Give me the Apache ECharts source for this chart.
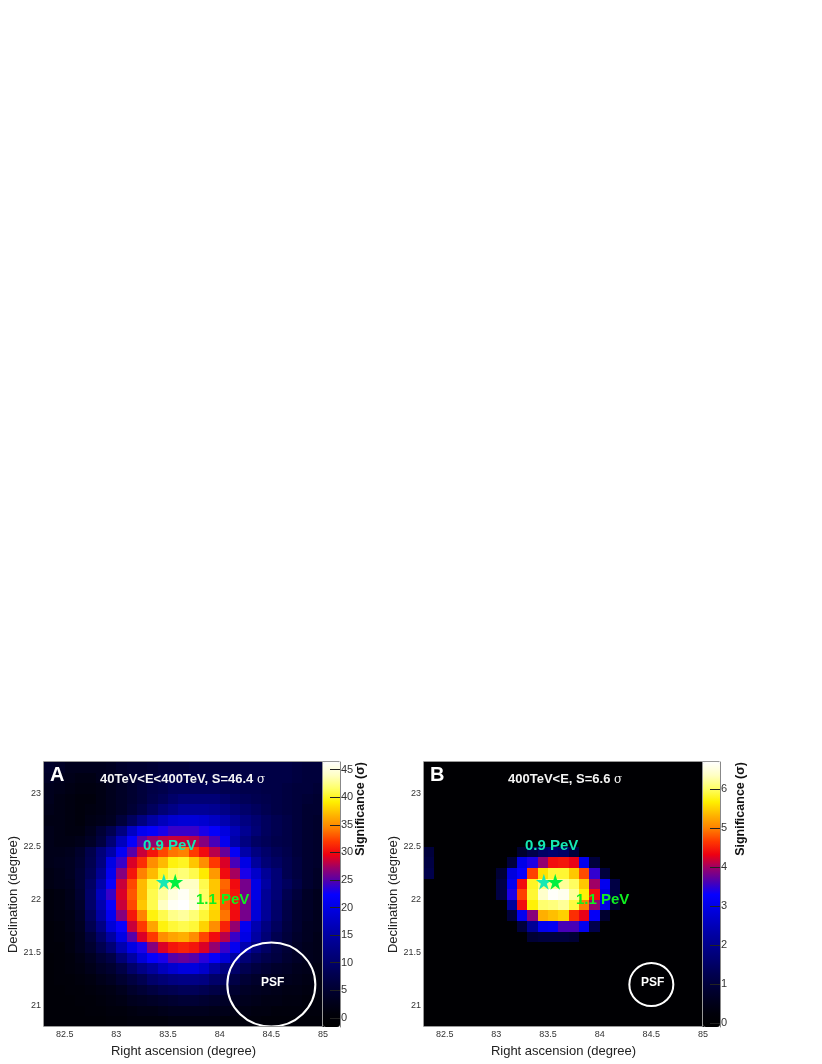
<!DOCTYPE html>
<html>
<head>
<meta charset="utf-8">
<title>Significance maps</title>
<script src="https://cdn.jsdelivr.net/npm/echarts@6/dist/echarts.min.js"></script>
<style>
html, body { margin: 0; padding: 0; background: #fff; }
#main { width: 822px; height: 1064px; }
</style>
</head>
<body>
<div id="main"></div>
<script>
// tick labels
var raTicks = [82.5, 83, 83.5, 84, 84.5, 85]
var decTicks = [21, 21.5, 22, 22.5, 23]
var barTicksA = [0, 5, 10, 15, 20, 25, 30, 35, 40, 45]
var barTicksB = [0, 1, 2, 3, 4, 5, 6]

// significance, top row first, 0.1 degree cells from RA 82.3
var sigA = [
  [4.5,4,3,3,3,3,3.5,4.5,5,5,5.5,6,6,6,6.5,6.5,6.5,6.5,6.5,7,7,7,7,7,6.5,6,6],
  [4,3,2.5,2,2,3,3.5,4,5,5.5,6,6.5,7,7,7,7,7,7,7,7,7,7,7,7,6.5,6,6],
  [3,2.5,2,1.5,1.5,2,3,4,5,6,7,7.5,8.5,8.5,8.5,8.5,8.5,8,8,7.5,7.5,7,7,6.5,6,6,5.5],
  [3,2,1.5,1,1,2,3,4,5,6,7.5,8.5,10,11,11,11,11,10,9,8.5,8,7.5,7,6.5,6,5.5,5],
  [2.5,2,1.5,1,1.5,2,3,4,5.5,7,9,11,12.5,14,14,14,13.5,12.5,11,10,9,8,7,6.5,6,5,5],
  [2,2,1.5,1,2,2.5,3.5,6,9,12,15,17,18.5,19,19,18.5,17.5,16,14,12,10.5,9,8,7,6,5,4.5],
  [2.5,2,1.5,1.5,3,5.5,8,12,17.5,21,22,23,24,24,24,23,22,19.5,16.5,13.5,11,9,8,7,6,5,4.5],
  [2.5,2,2,2.5,4,6.5,11,17,22,25,27,28,28.5,28.5,28,26.5,24.5,21,15.5,12,9.5,8.5,7.5,7,6,5,4.5],
  [2.5,2.5,3,4.5,7.5,11.5,15.5,21.5,25,28.5,30.5,32.5,34,34.5,32,30,28,25.5,21.5,15.5,12,10,8.5,7.5,6,5,4.5],
  [2.5,3,3.5,5,8,12,20,24,29,31.5,35,37,39.5,40,37.5,35,32,29,24.5,20,14.5,11,9.5,8,6.5,5,4.5],
  [2,2.5,3.5,5.5,8.5,13.5,21,26.5,30.5,34.5,37,40,41.5,42,41,39,35.5,30,27.5,23,18,14,11,8,6.5,5,4],
  [2,2.5,3,5.5,9.5,15.5,22.5,28.5,32.5,37,40.5,42,43,44,44,41,37.5,33.5,30,26,20,15,11,9,7,5,4],
  [1,1.5,2.5,5,10,17,24,29,33,37,41,43,45,46,44.5,41.5,37.5,33,30.5,26,20,14,11,8,6,4,3],
  [1,1.5,2.5,4.5,10,16,22.5,28.5,32.5,37.5,41,44,46,46.4,45,42,38.5,33,30,26,19,14,10,7,5,4,3],
  [1,1.5,2,4,9,15,21,26.5,30.5,34.5,39.5,41,42.5,43,42,40.5,38,34,30,26,19,14,10,7,5,4,3],
  [0.5,1,2,3.5,8,12.5,19,22.5,28.5,32,36,39.5,40.5,41,40.5,38,35,31,27,21,16,12,9,6.5,5,3.5,3],
  [0.5,1,1.5,3,6,10,15,20,25,29,32,35,36,36.5,35,32.5,30,28,24,20,15,11,8,6,4.5,3.5,2.5],
  [0.5,0.5,1.5,3,5,8,11,16,20,23,26.5,29,30.5,31,30.5,29,27,24,21,16,12,9.5,7,5.5,4,3,2.5],
  [0,0.5,1,2,3.5,5.5,7,11,15,19,22,23,25,25.5,25,23.5,22,19,15,11,9,7.5,6.5,5,4,3,2.5],
  [0,0.5,1,1.5,2.5,4,5,7,10,12.5,14.5,17,18.5,19.5,19.5,18,15,12,10,8,6.5,5.5,4.5,4,3,2.5,2],
  [0,0.5,0.5,1,1.5,2.5,3.5,5,6.5,8,10,11,12,12.5,12.5,12,10,9,7,5.5,4.5,4,3.5,3,2.5,2,1.5],
  [0,0,0.5,0.5,1,1.5,2,3,4.5,5.5,6.5,7.5,8,8.5,8.5,8,7,6,5,4,3.5,3,2.5,2,2,1.5,1.5],
  [0,0,0,0.5,0.5,1,1.5,2,3,3.5,4,4.5,5,5.5,5.5,5,4.5,4,3.5,3,2.5,2,2,1.5,1.5,1,1],
  [0,0,0,0,0.5,0.5,1,1,1.5,2,2,2.5,3,3,3,3,2.5,2.5,2,2,1.5,1.5,1,1,1,1,1],
  [0,0,0,0,0,0,0.5,0.5,1,1,1,1,1.5,1.5,1.5,1.5,1.5,1,1,1,1,0.5,0.5,0.5,0.5,0.5,0.5]
]

var sigB = [
  [0,0,0,0,0,0,0,0,0,0,0,0,0,0,0,0,0,0,0,0,0,0,0,0,0,0,0],
  [0,0,0,0,0,0,0,0,0,0,0,0,0,0,0,0,0,0,0,0,0,0,0,0,0,0,0],
  [0,0,0,0,0,0,0,0,0,0,0,0,0,0,0,0,0,0,0,0,0,0,0,0,0,0,0],
  [0,0,0,0,0,0,0,0,0,0,0,0,0,0,0,0,0,0,0,0,0,0,0,0,0,0,0],
  [0,0,0,0,0,0,0,0,0,0,0,0,0,0,0,0,0,0,0,0,0,0,0,0,0,0,0],
  [0,0,0,0,0,0,0,0,0,0,0,0,0,0,0,0,0,0,0,0,0,0,0,0,0,0,0],
  [0,0,0,0,0,0,0,0,0,0,0,0,0,0,0,0,0,0,0,0,0,0,0,0,0,0,0],
  [0,0,0,0,0,0,0,0,0,0,0,0,0,0,0,0,0,0,0,0,0,0,0,0,0,0,0],
  [1,0,0,0,0,0,0,0,0,0.8,1.2,1.5,1.6,1.5,1,0,0,0,0,0,0,0,0,0,0,0,0],
  [1.1,0,0,0,0,0,0,0,1,3,3.4,3.95,4.4,4.45,4.3,3.1,1,0,0,0,0,0,0,0,0,0,0],
  [1.2,0,0,0,0,0,0,0.9,2.9,3.3,4.7,5.6,5.85,5.85,5.45,4.75,3.5,1,0,0,0,0,0,0,0,0,0],
  [0,0,0,0,0,0,0,1.1,3.1,4.4,5.8,6.1,6.15,6.2,6,5.45,4,3.1,1.1,0,0,0,0,0,0,0,0],
  [0,0,0,0,0,0,0,1.1,3.4,4.7,5.85,6.4,6.67,6.6,6.2,5.7,4.4,2.9,1.1,0,0,0,0,0,0,0,0],
  [0,0,0,0,0,0,0,0,2.2,4.4,5.7,6.05,6.1,6.2,5.9,5,3.95,3,0.8,0,0,0,0,0,0,0,0],
  [0,0,0,0,0,0,0,0,1,3.1,3.9,5.3,5.4,5.5,4.6,4.3,3.2,0.8,0,0,0,0,0,0,0,0,0],
  [0,0,0,0,0,0,0,0,0,1,2.1,3.1,3.15,3.6,3.6,3.1,1.2,0,0,0,0,0,0,0,0,0,0],
  [0,0,0,0,0,0,0,0,0,0,0.9,1,1,1,0.9,0,0,0,0,0,0,0,0,0,0,0,0],
  [0,0,0,0,0,0,0,0,0,0,0,0,0,0,0,0,0,0,0,0,0,0,0,0,0,0,0],
  [0,0,0,0,0,0,0,0,0,0,0,0,0,0,0,0,0,0,0,0,0,0,0,0,0,0,0],
  [0,0,0,0,0,0,0,0,0,0,0,0,0,0,0,0,0,0,0,0,0,0,0,0,0,0,0],
  [0,0,0,0,0,0,0,0,0,0,0,0,0,0,0,0,0,0,0,0,0,0,0,0,0,0,0],
  [0,0,0,0,0,0,0,0,0,0,0,0,0,0,0,0,0,0,0,0,0,0,0,0,0,0,0],
  [0,0,0,0,0,0,0,0,0,0,0,0,0,0,0,0,0,0,0,0,0,0,0,0,0,0,0],
  [0,0,0,0,0,0,0,0,0,0,0,0,0,0,0,0,0,0,0,0,0,0,0,0,0,0,0],
  [0,0,0,0,0,0,0,0,0,0,0,0,0,0,0,0,0,0,0,0,0,0,0,0,0,0,0]
]

var starCyan = [83.46, 22.17]
var starGreen = [83.57, 22.17]
var psfCenter = [84.5, 21.2]

// colour bar, 5% steps from bottom to top
var palette = [
  '#000000', '#00000a', '#00001e', '#000036', '#000050', '#00006e', '#000088',
  '#0000a4', '#0000c4', '#0000e4', '#0600ff', '#5000af', '#9a006a', '#ee0012',
  '#ff3800', '#ff8000', '#ffb500', '#fff000', '#ffff66', '#ffffc4', '#ffffff'
]

var raMin = 82.3, raMax = 85, decMin = 20.8, decMax = 23.3, cell = 0.1
var starPath = 'path://M50 0L61 35L98 35L68 57L79 91L50 70L21 91L32 57L2 35L39 35Z'
var font = '"Liberation Sans", Arial, sans-serif'
var gridTop = 762, gridH = 265, gridW = 279, barW = 17
var panelLeft = [44, 424]

function toCells(rows) {
  var out = []
  rows.forEach(function (row, r) {
    row.forEach(function (v, c) {
      out.push([raMin + cell * c, decMax - cell * (r + 1), v])
    })
  })
  return out
}

// 画一个格子
function renderCell(params, api) {
  var x = api.value(0), y = api.value(1)
  var p0 = api.coord([x, y + cell])
  var p1 = api.coord([x + cell, y])
  var x0 = Math.round(p0[0]), y0 = Math.round(p0[1])
  return {
    type: 'rect',
    shape: { x: x0, y: y0, width: Math.round(p1[0]) - x0, height: Math.round(p1[1]) - y0 },
    style: { fill: api.visual('color') }
  }
}

var grids = [], xAxes = [], yAxes = [], series = [], maps = [], graphics = []

function addPanel(i, rows, barMin, barMax, barTicks, name, title, titleX, psfSize, lab) {
  var left = panelLeft[i]
  var g = i * 2
  grids.push({ left: left, top: gridTop, width: gridW, height: gridH })
  grids.push({ left: left + gridW, top: gridTop, width: barW, height: gridH })

  xAxes.push({
    gridIndex: g, type: 'value', min: raMin, max: raMax,
    name: 'Right ascension (degree)', nameLocation: 'middle', nameGap: 18,
    nameTextStyle: { fontFamily: font, fontSize: 13, color: '#222' },
    axisLine: { show: false }, splitLine: { show: false },
    axisTick: { inside: true, length: 6, lineStyle: { color: '#000' }, customValues: raTicks },
    axisLabel: { fontFamily: font, fontSize: 9, color: '#333', margin: 3, customValues: raTicks }
  })
  xAxes.push({ gridIndex: g + 1, type: 'value', min: 0, max: 1, show: false })

  yAxes.push({
    gridIndex: g, type: 'value', min: decMin, max: decMax,
    name: 'Declination (degree)', nameLocation: 'middle', nameGap: 22,
    nameTextStyle: { fontFamily: font, fontSize: 13, color: '#222' },
    axisLine: { show: false }, splitLine: { show: false },
    axisTick: { inside: true, length: 6, lineStyle: { color: '#000' }, customValues: decTicks },
    axisLabel: { fontFamily: font, fontSize: 9, color: '#333', margin: 3, customValues: decTicks }
  })
  yAxes.push({
    gridIndex: g + 1, type: 'value', position: 'right', min: barMin, max: barMax, z: 6,
    axisLine: { show: true, onZero: false, lineStyle: { color: '#888', width: 1 } }, splitLine: { show: false },
    axisTick: { inside: true, length: 10, lineStyle: { color: '#222' }, customValues: barTicks },
    axisLabel: { fontFamily: font, fontSize: 11, color: '#333', margin: 1, customValues: barTicks }
  })

  var sIdx = series.length
  series.push({
    type: 'custom', xAxisIndex: g, yAxisIndex: g, renderItem: renderCell, clip: true,
    encode: { x: 0, y: 1 }, data: toCells(rows), silent: true, animation: false
  })
  series.push({
    type: 'scatter', xAxisIndex: g, yAxisIndex: g, symbol: starPath, symbolSize: 16, z: 5,
    data: [starCyan], itemStyle: { color: '#15e8b4', opacity: 1 }, silent: true
  })
  series.push({
    type: 'scatter', xAxisIndex: g, yAxisIndex: g, symbol: starPath, symbolSize: 16, z: 5,
    data: [starGreen], itemStyle: { color: '#00f040', opacity: 1 }, silent: true
  })
  series.push({
    type: 'scatter', xAxisIndex: g, yAxisIndex: g, symbol: 'circle', symbolSize: psfSize, z: 5,
    data: [psfCenter], silent: true,
    itemStyle: { color: 'transparent', borderColor: '#fff', borderWidth: 2, opacity: 1 }
  })

  maps.push({
    type: 'continuous', seriesIndex: sIdx, dimension: 2, min: barMin, max: barMax,
    left: left + gridW, top: gridTop, itemWidth: barW, itemHeight: gridH, padding: 0,
    calculable: false, realtime: false, hoverLink: false, text: null, showLabel: false,
    inRange: { color: palette }, z: 4
  })

  // frame
  graphics.push({
    type: 'rect', z: 20, silent: true,
    shape: { x: left - 0.5, y: gridTop - 0.5, width: gridW, height: gridH },
    style: { fill: 'none', stroke: '#999', lineWidth: 1 }
  })
  graphics.push({
    type: 'line', z: 20, silent: true,
    shape: { x1: left + gridW + barW - 0.5, y1: gridTop - 0.5, x2: left + gridW - 0.5, y2: gridTop - 0.5 },
    style: { stroke: '#999', lineWidth: 1 }
  })

  function txt(x, y, text, size, color, weight, rich) {
    graphics.push({
      type: 'text', z: 21, silent: true, x: x, y: y,
      style: {
        text: text, fontFamily: font, fontSize: size, fontWeight: weight || 'bold', fill: color,
        align: 'left', verticalAlign: 'middle', rich: rich
      }
    })
  }

  txt(left + 6, 775, name, 20, '#fff')
  txt(titleX, 779.5, '{b|' + title + '} {s|σ}', 13, '#fff', 'bold', {
    b: { fontFamily: font, fontSize: 13, fontWeight: 'bold', fill: '#f4f4f4' },
    s: { fontFamily: '"DejaVu Serif", serif', fontSize: 12, fill: '#f4f4f4' }
  })
  txt(lab[0], 845.5, '0.9 PeV', 15, '#15e8b4')
  txt(lab[1], 899.5, '1.1 PeV', 15, '#10f020')
  txt(left + 217, 982.5, 'PSF', 12, '#fff')

  // colour bar title
  graphics.push({
    type: 'text', z: 21, silent: true, x: left + gridW + 38, y: 762, rotation: Math.PI / 2,
    style: {
      text: '{b|Significance} {s|(σ)}', align: 'right', verticalAlign: 'middle',
      rich: {
        b: { fontFamily: font, fontSize: 12.5, fontWeight: 'bold', fill: '#111' },
        s: { fontFamily: font, fontSize: 12.5, fontWeight: 'bold', fill: '#111' }
      }
    }
  })
}

addPanel(0, sigA, -1.65, 46.4, barTicksA, 'A', '40TeV<E<400TeV, S=46.4', 100, [88, 84], [143, 196])
addPanel(1, sigB, -0.1, 6.7, barTicksB, 'B', '400TeV<E, S=6.6', 508, [44, 43], [525, 576])

var myChart = echarts.init(document.getElementById('main'), null, { renderer: 'canvas' })
myChart.setOption({
  animation: false,
  grid: grids,
  xAxis: xAxes,
  yAxis: yAxes,
  visualMap: maps,
  series: series,
  graphic: graphics
})
</script>
</body>
</html>
